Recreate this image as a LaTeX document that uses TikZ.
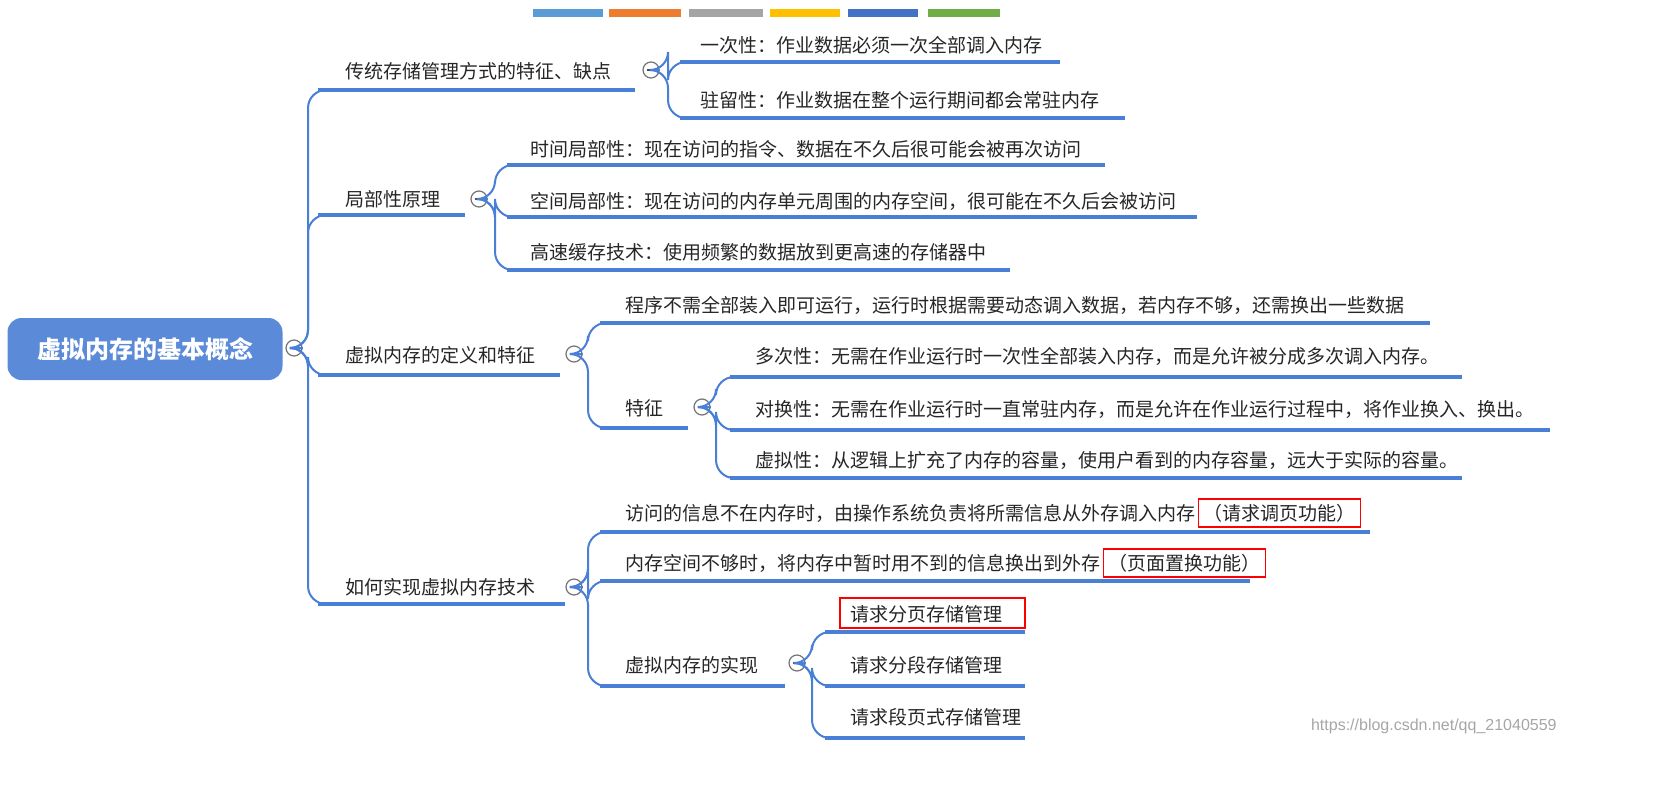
\documentclass[tikz,border=0pt]{standalone}
\usepackage{fontspec}
\newfontfamily\cjk{Noto Sans CJK SC}
\newfontfamily\wmfont{Liberation Sans}
\definecolor{lblue}{HTML}{4A7FD6}
\definecolor{rootblue}{HTML}{5A8AD8}
\tikzset{
 uline/.style={lblue,line width=2pt},
 conn/.style={lblue,line width=1pt,rounded corners=9},
 lbl/.style={anchor=west,inner sep=0pt,font=\cjk\fontsize{9.5}{11}\selectfont,text=black!85},
 rbox/.style={anchor=west,draw=red,line width=0.8pt,inner sep=2.5pt,font=\cjk\fontsize{9.5}{11}\selectfont,text=black!85},
 mcirc/.style={circle,draw=black!55,fill=white,line width=0.6pt,minimum size=8pt,inner sep=0pt,
   path picture={\draw[black!70,line width=0.7pt] ([xshift=-2.2pt]path picture bounding box.center) -- ([xshift=2.2pt]path picture bounding box.center);}},
 root/.style={fill=rootblue,rounded corners=7pt,minimum width=137.5pt,minimum height=31pt,text=white,font=\cjk\bfseries\fontsize{12}{14}\selectfont}
}
\newcommand\mmleaf[7]{\coordinate (#1s) at (#2,#3);\draw[uline] (#1s) -- (#4,#3);\node[lbl] (#1) at (#5,#6) {#7};}
\begin{document}
\begin{tikzpicture}[x=0.5pt,y=-0.5pt]
\useasboundingbox (0,0) rectangle (1659,787);
% color bar
\foreach \a/\b/\c in {533/603/5B9BD5,609/681/ED7D31,689/763/A5A5A5,770/840/FFC000,848/918/4472C4,928/1000/70AD47}
  {\definecolor{tmpc}{HTML}{\c}\fill[tmpc] (\a,9) rectangle (\b,17);}
% root
\node[root] (root) at (145,349) {虚拟内存的基本概念};
\node[mcirc] (c0) at (294,348) {};
% level 1
\mmleaf{a}{318}{90}{635}{345}{71}{传统存储管理方式的特征、缺点}
\mmleaf{b}{318}{215}{465}{345}{199}{局部性原理}
\mmleaf{c}{318}{375}{560}{345}{355}{虚拟内存的定义和特征}
\mmleaf{d}{318}{604}{565}{345}{587}{如何实现虚拟内存技术}
\foreach \t in {a,b,c,d} \draw[conn] (c0.east) -- (308,348) -- (308,0 |- \t s) -- (\t s);
\node[mcirc] (ca) at (651,70) {};
\node[mcirc] (cb) at (479,199) {};
\node[mcirc] (cc) at (574,354) {};
\node[mcirc] (cd) at (574,587) {};
% group a
\mmleaf{a1}{680}{62}{1060}{700}{45}{一次性：作业数据必须一次全部调入内存}
\mmleaf{a2}{680}{118}{1125}{700}{100}{驻留性：作业数据在整个运行期间都会常驻内存}
\foreach \t in {a1,a2} \draw[conn] (ca.east) -- (668,70) -- (668,0 |- \t s) -- (\t s);
% group b
\mmleaf{b1}{507}{165}{1105}{530}{149}{时间局部性：现在访问的指令、数据在不久后很可能会被再次访问}
\mmleaf{b2}{507}{217}{1197}{530}{201}{空间局部性：现在访问的内存单元周围的内存空间，很可能在不久后会被访问}
\mmleaf{b3}{507}{270}{1010}{530}{252}{高速缓存技术：使用频繁的数据放到更高速的存储器中}
\foreach \t in {b1,b2,b3} \draw[conn] (cb.east) -- (495,199) -- (495,0 |- \t s) -- (\t s);
% group c
\mmleaf{c1}{600}{323}{1430}{625}{305}{程序不需全部装入即可运行，运行时根据需要动态调入数据，若内存不够，还需换出一些数据}
\mmleaf{c2}{600}{428}{688}{625}{408}{特征}
\foreach \t in {c1,c2} \draw[conn] (cc.east) -- (588,354) -- (588,0 |- \t s) -- (\t s);
\node[mcirc] (cc2) at (702,407) {};
\mmleaf{e1}{730}{377}{1462}{755}{356}{多次性：无需在作业运行时一次性全部装入内存，而是允许被分成多次调入内存。}
\mmleaf{e2}{730}{430}{1550}{755}{409}{对换性：无需在作业运行时一直常驻内存，而是允许在作业运行过程中，将作业换入、换出。}
\mmleaf{e3}{730}{478}{1462}{755}{460}{虚拟性：从逻辑上扩充了内存的容量，使用户看到的内存容量，远大于实际的容量。}
\foreach \t in {e1,e2,e3} \draw[conn] (cc2.east) -- (716,407) -- (716,0 |- \t s) -- (\t s);
% group d
\mmleaf{d1}{600}{532}{1370}{625}{513}{访问的信息不在内存时，由操作系统负责将所需信息从外存调入内存}
\node[rbox] (d1r) at ([xshift=1pt]d1.east) {（请求调页功能）};
\mmleaf{d2}{600}{581}{1250}{625}{563}{内存空间不够时，将内存中暂时用不到的信息换出到外存}
\node[rbox] (d2r) at ([xshift=1pt]d2.east) {（页面置换功能）};
\mmleaf{d3}{600}{686}{785}{625}{665}{虚拟内存的实现}
\foreach \t in {d1,d2,d3} \draw[conn] (cd.east) -- (588,587) -- (588,0 |- \t s) -- (\t s);
\node[mcirc] (cd3) at (797,663) {};
\mmleaf{f1}{825}{632}{1025}{850}{614}{请求分页存储管理}
\draw[red,line width=0.8pt] (840,598) rectangle (1025,628);
\mmleaf{f2}{825}{686}{1025}{850}{665}{请求分段存储管理}
\mmleaf{f3}{825}{738}{1025}{850}{717}{请求段页式存储管理}
\foreach \t in {f1,f2,f3} \draw[conn] (cd3.east) -- (812,663) -- (812,0 |- \t s) -- (\t s);
% watermark
\node[anchor=east,inner sep=0pt,font=\wmfont\fontsize{8}{9}\selectfont,text=black!35] (wm) at (1557,726) {https://blog.csdn.net/qq\_21040559};
\end{tikzpicture}
\end{document}
